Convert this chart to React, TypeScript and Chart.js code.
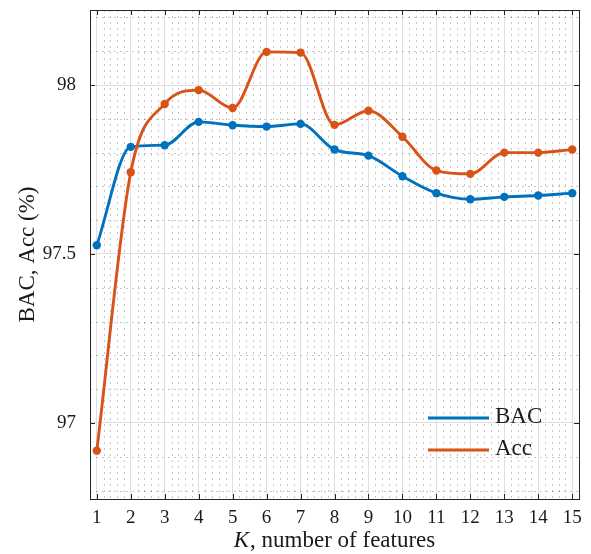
import React, { useEffect, useRef } from 'react';
import { Chart, registerables } from 'chart.js';

Chart.register(...registerables);

const K_VALUES = [1, 2, 3, 4, 5, 6, 7, 8, 9, 10, 11, 12, 13, 14, 15];
const BAC = [97.526, 97.817, 97.822, 97.891, 97.881, 97.877, 97.885, 97.809, 97.791, 97.73, 97.68, 97.662, 97.669, 97.673, 97.68];
const ACC = [96.918, 97.742, 97.944, 97.985, 97.932, 98.098, 98.096, 97.882, 97.924, 97.847, 97.747, 97.737, 97.8, 97.8, 97.809];
const X_TICKS = [1, 2, 3, 4, 5, 6, 7, 8, 9, 10, 11, 12, 13, 14, 15];
const Y_TICKS = [97, 97.5, 98];
const SERIES_LABELS = ['BAC', 'Acc'];
const X_LABEL_ITALIC = 'K';
const X_LABEL_REST = ', number of features';
const Y_LABEL = 'BAC, Acc (%)';

const X_MIN = 0.8;
const X_MAX = 15.2;
const Y_MIN = 96.775;
const Y_MAX = 98.222;

const FONT = "'Liberation Serif', 'Times New Roman', serif";
const TEXT = '#1a1a1a';
const BLUE = '#0072BD';
const ORANGE = '#D95319';

const decorPlugin = {
  id: 'decor',
  beforeDatasetsDraw(chart: any) {
    const { ctx, chartArea: a, scales } = chart;
    const xs = scales.x;
    const ys = scales.y;
    ctx.save();
    ctx.beginPath();
    ctx.rect(a.left, a.top, a.right - a.left, a.bottom - a.top);
    ctx.clip();
    ctx.strokeStyle = 'rgba(0,0,0,0.22)';
    ctx.lineWidth = 1;
    ctx.setLineDash([2, 4]);
    for (let i = Math.round(X_MIN * 5); i <= Math.round(X_MAX * 5); i++) {
      if (i % 5 === 0) continue;
      const px = Math.round(xs.getPixelForValue(i / 5)) + 0.5;
      ctx.beginPath();
      ctx.moveTo(px, a.top);
      ctx.lineTo(px, a.bottom);
      ctx.stroke();
    }
    for (let j = Math.ceil(Y_MIN * 10); j <= Math.floor(Y_MAX * 10); j++) {
      if (j % 5 === 0) continue;
      const py = Math.round(ys.getPixelForValue(j / 10)) + 0.5;
      ctx.beginPath();
      ctx.moveTo(a.left, py);
      ctx.lineTo(a.right, py);
      ctx.stroke();
    }
    ctx.restore();
  },
  afterDraw(chart: any) {
    const { ctx, chartArea: a, scales } = chart;
    const xs = scales.x;
    const ys = scales.y;
    ctx.save();
    ctx.strokeStyle = '#262626';
    ctx.lineWidth = 1;
    ctx.setLineDash([]);
    ctx.strokeRect(Math.round(a.left) + 0.5, Math.round(a.top) + 0.5, Math.round(a.right - a.left), Math.round(a.bottom - a.top));
    const tl = 5;
    ctx.beginPath();
    X_TICKS.forEach((v) => {
      const px = Math.round(xs.getPixelForValue(v)) + 0.5;
      ctx.moveTo(px, a.bottom);
      ctx.lineTo(px, a.bottom - tl);
      ctx.moveTo(px, a.top);
      ctx.lineTo(px, a.top + tl);
    });
    Y_TICKS.forEach((v) => {
      const py = Math.round(ys.getPixelForValue(v)) + 0.5;
      ctx.moveTo(a.left, py);
      ctx.lineTo(a.left + tl, py);
      ctx.moveTo(a.right, py);
      ctx.lineTo(a.right - tl, py);
    });
    ctx.stroke();

    ctx.fillStyle = TEXT;
    ctx.textBaseline = 'alphabetic';
    ctx.textAlign = 'left';
    const titleSize = 23;
    ctx.font = `italic ${titleSize}px ${FONT}`;
    const wK = ctx.measureText(X_LABEL_ITALIC).width;
    ctx.font = `${titleSize}px ${FONT}`;
    const wR = ctx.measureText(X_LABEL_REST).width;
    const cx = (a.left + a.right) / 2;
    const startX = cx - (wK + wR + 1) / 2;
    const baseY = a.bottom + 48;
    ctx.font = `italic ${titleSize}px ${FONT}`;
    ctx.fillText(X_LABEL_ITALIC, startX, baseY);
    ctx.font = `${titleSize}px ${FONT}`;
    ctx.fillText(X_LABEL_REST, startX + wK + 1, baseY);

    ctx.save();
    ctx.translate(28, (a.top + a.bottom) / 2);
    ctx.rotate(-Math.PI / 2);
    ctx.textAlign = 'center';
    ctx.textBaseline = 'middle';
    ctx.font = `${titleSize}px ${FONT}`;
    ctx.fillText(Y_LABEL, 0, 0);
    ctx.restore();

    const ds = chart.data.datasets;
    const x0 = a.right - 151;
    const x1 = a.right - 90;
    const rows = [a.bottom - 81, a.bottom - 49];
    ds.forEach((d: any, i: number) => {
      const y = rows[i];
      ctx.strokeStyle = d.borderColor;
      ctx.lineWidth = 2.8;
      ctx.beginPath();
      ctx.moveTo(x0, y);
      ctx.lineTo(x1, y);
      ctx.stroke();
      ctx.fillStyle = TEXT;
      ctx.font = `${titleSize}px ${FONT}`;
      ctx.textAlign = 'left';
      ctx.textBaseline = 'middle';
      ctx.fillText(d.label, x1 + 6, y - 1);
    });
    ctx.restore();
  },
};

export default function App() {
  const ref = useRef<HTMLCanvasElement | null>(null);

  useEffect(() => {
    if (!ref.current) return;
    const chart = new Chart(ref.current, {
      type: 'line',
      data: {
        datasets: [
          {
            label: SERIES_LABELS[0],
            data: K_VALUES.map((k, i) => ({ x: k, y: BAC[i] })),
            borderColor: BLUE,
            backgroundColor: BLUE,
            borderWidth: 2.9,
            pointRadius: 4.2,
            pointBorderWidth: 0,
            cubicInterpolationMode: 'monotone',
            order: 1,
          },
          {
            label: SERIES_LABELS[1],
            data: K_VALUES.map((k, i) => ({ x: k, y: ACC[i] })),
            borderColor: ORANGE,
            backgroundColor: ORANGE,
            borderWidth: 2.9,
            pointRadius: 4.2,
            pointBorderWidth: 0,
            cubicInterpolationMode: 'monotone',
            order: 0,
          },
        ],
      },
      options: {
        animation: false,
        responsive: true,
        maintainAspectRatio: false,
        layout: { padding: { top: 10, right: 12, left: 0, bottom: 0 } },
        plugins: { legend: { display: false }, tooltip: { enabled: false } },
        scales: {
          x: {
            type: 'linear',
            min: X_MIN,
            max: X_MAX,
            afterBuildTicks: (s: any) => {
              s.ticks = X_TICKS.map((v) => ({ value: v }));
            },
            afterFit: (s: any) => {
              s.height = 55;
              s.paddingLeft = 0;
              s.paddingRight = 0;
            },
            ticks: {
              autoSkip: false,
              maxRotation: 0,
              padding: 8,
              color: TEXT,
              font: { family: FONT, size: 19 },
              callback: (v: any) => String(v),
            },
            grid: { color: '#dedede', lineWidth: 1, drawTicks: false },
            border: { display: false },
          },
          y: {
            type: 'linear',
            min: Y_MIN,
            max: Y_MAX,
            afterBuildTicks: (s: any) => {
              s.ticks = Y_TICKS.map((v) => ({ value: v }));
            },
            afterFit: (s: any) => {
              s.width = 90;
              s.paddingTop = 0;
              s.paddingBottom = 0;
            },
            ticks: {
              padding: 14,
              color: TEXT,
              font: { family: FONT, size: 19 },
              callback: (v: any) => String(v),
            },
            grid: { color: '#dedede', lineWidth: 1, drawTicks: false },
            border: { display: false },
          },
        },
      },
      plugins: [decorPlugin],
    } as any);
    return () => chart.destroy();
  }, []);

  return (
    <div style={{ position: 'fixed', left: 0, top: 0, width: 591, height: 554, background: '#fff' }}>
      <canvas ref={ref} />
    </div>
  );
}
